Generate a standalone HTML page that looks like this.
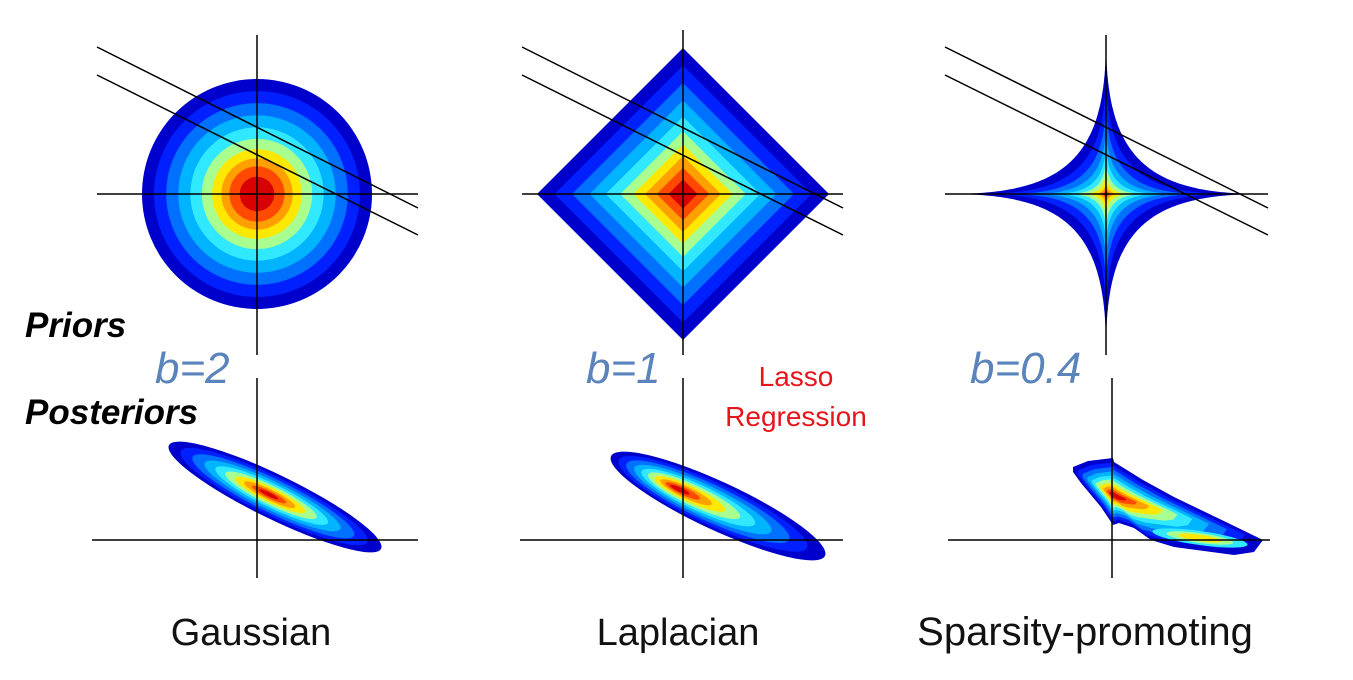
<!DOCTYPE html>
<html><head><meta charset="utf-8"><style>
html,body{margin:0;padding:0;background:#fff;width:1353px;height:680px;overflow:hidden}
svg{display:block}
</style></head><body>
<svg id="fig" width="1353" height="680" viewBox="0 0 1353 680">
<g id="shapes"></g>
<g id="lines" stroke="#000" stroke-width="1.5" fill="none">
 <line x1="257" y1="35" x2="257" y2="355"/>
 <line x1="97" y1="194" x2="418" y2="194"/>
 <line x1="683" y1="30" x2="683" y2="355"/>
 <line x1="522" y1="194" x2="843" y2="194"/>
 <line x1="1106" y1="35" x2="1106" y2="355"/>
 <line x1="945" y1="194" x2="1268" y2="194"/>
 <line x1="97" y1="47" x2="418" y2="208"/>
 <line x1="97" y1="75" x2="418" y2="235"/>
 <line x1="522" y1="47" x2="843" y2="208"/>
 <line x1="522" y1="75" x2="843" y2="235"/>
 <line x1="945" y1="47" x2="1268" y2="208"/>
 <line x1="945" y1="75" x2="1268" y2="235"/>
 <line x1="257" y1="378" x2="257" y2="578"/>
 <line x1="92" y1="540" x2="418" y2="540"/>
 <line x1="683" y1="378" x2="683" y2="578"/>
 <line x1="520" y1="540" x2="843" y2="540"/>
 <line x1="1112" y1="378" x2="1112" y2="578"/>
 <line x1="948" y1="540" x2="1270" y2="540"/>
</g>
<g font-family="Liberation Sans, sans-serif">
 <text x="25" y="337" font-size="35" font-weight="bold" font-style="italic">Priors</text>
 <text x="25" y="424" font-size="35" font-weight="bold" font-style="italic">Posteriors</text>
 <text x="155" y="383" font-size="44" font-style="italic" fill="#5a84bb">b=2</text>
 <text x="586" y="383" font-size="44" font-style="italic" fill="#5a84bb">b=1</text>
 <text x="970" y="383" font-size="44" font-style="italic" fill="#5a84bb">b=0.4</text>
 <text x="796" y="386" font-size="28" fill="#e8141c" text-anchor="middle">Lasso</text>
 <text x="796" y="426" font-size="28" fill="#e8141c" text-anchor="middle">Regression</text>
 <text x="251" y="645" font-size="38" text-anchor="middle" fill="#111">Gaussian</text>
 <text x="678" y="645" font-size="38" text-anchor="middle" fill="#111">Laplacian</text>
 <text x="1085" y="645" font-size="40" text-anchor="middle" fill="#111">Sparsity-promoting</text>
</g>
</svg>
<script>
const bandColors = ['#0000cc','#0020ff','#0070ff','#00b4ff','#30e8ff','#a8ff90','#ffe800','#ffa000','#ff4800','#d80000'];
const gaussLevels = [1.0,0.895,0.79,0.685,0.58,0.48,0.39,0.31,0.24,0.15];
const laplaceLevels = [1.0,0.88,0.76,0.64,0.53,0.43,0.34,0.26,0.18,0.1];
const sparseLevels = [1.0,0.8,0.63,0.48,0.36,0.26,0.17,0.1,0.055,0.025];
const postLevels = [1.0,0.88,0.76,0.64,0.53,0.43,0.33,0.24,0.16,0.09];
const sparsePostOutline = [[-40,-28],[-25,-34],[0,-37],[1,-33],[30,-15],[61,2],[115,28],[150,45],[141,57],[121,60],[61,52],[38,45],[21,33],[6,28],[0,30],[-12,12],[-32,-12],[-40,-23]];
const sparseLobeLevels = [1.0,0.7,0.45];
const NS='http://www.w3.org/2000/svg';
const g=document.getElementById('shapes');
function add(tag,attrs,name){const e=document.createElementNS(NS,tag);for(const k in attrs)e.setAttribute(k,attrs[k]);


g.appendChild(e);return e;}
gaussLevels.forEach((s,i)=>add('circle',{cx:257,cy:194,r:115*s,fill:bandColors[i]},'gaussian-prior-band-'+i));
laplaceLevels.forEach((s,i)=>{const r=146*s;add('polygon',{points:`683,${194-r} ${683+r},194 683,${194+r} ${683-r},194`,fill:bandColors[i]},'laplacian-prior-band-'+i);});
sparseLevels.forEach((s,i)=>{let pts=[];for(let k=0;k<=720;k++){const t=k*Math.PI/360,c=Math.cos(t),sn=Math.sin(t);
pts.push((1106+162*s*Math.sign(c)*Math.pow(Math.abs(c),4.5)).toFixed(1)+','+(194-160*s*Math.sign(sn)*Math.pow(Math.abs(sn),4.5)).toFixed(1));}
add('polygon',{points:pts.join(' '),fill:bandColors[i]},'sparse-prior-band-'+i);});
function ellBands(cx,cy,px,py,a,b,ang,name){postLevels.forEach((s,i)=>{const x=px+s*(cx-px),y=py+s*(cy-py);
add('ellipse',{cx:x,cy:y,rx:a*s,ry:b*s,transform:`rotate(${ang} ${x} ${y})`,fill:bandColors[i]},name+'-band-'+i);});}
ellBands(275,497,268,494,118,22,26,'gaussian-posterior');
ellBands(718,506,676,488,118,24,25,'laplacian-posterior');
postLevels.forEach((s,i)=>{const px=1113,py=495;
const pts=sparsePostOutline.map(p=>(px+p[0]*s).toFixed(1)+','+(py+p[1]*s).toFixed(1)).join(' ');
add('polygon',{points:pts,fill:bandColors[i],'stroke-linejoin':'round'},'sparse-posterior-band-'+i);});
sparseLobeLevels.forEach((s,i)=>add('ellipse',{cx:1200,cy:538,rx:48*s,ry:7*s,transform:'rotate(8 1200 538)',fill:bandColors[i+4]},'sparse-posterior-lobe-'+i));
</script>
</body></html>
